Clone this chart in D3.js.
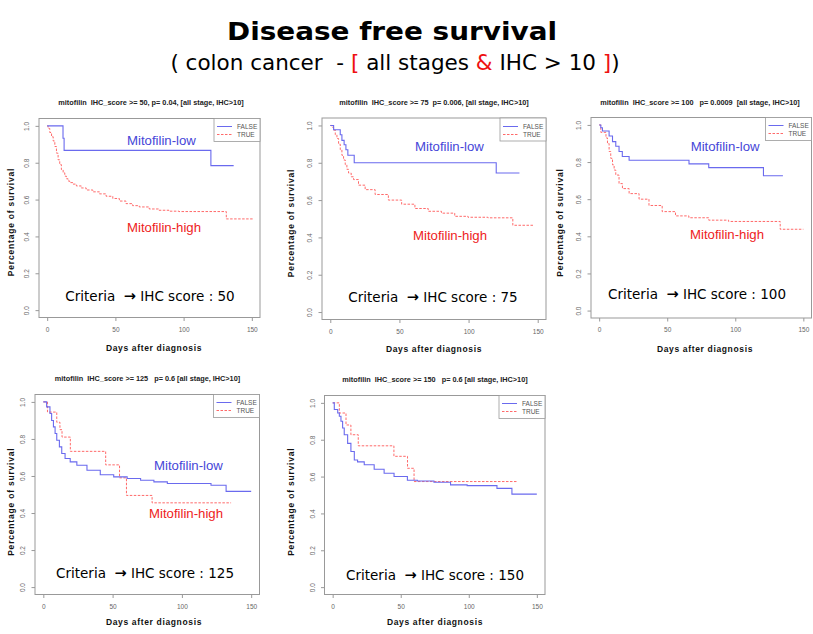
<!DOCTYPE html>
<html><head><meta charset="utf-8">
<script src="https://cdn.jsdelivr.net/npm/d3@7"></script>
<style>body{margin:0;background:#fff}svg{display:block}text{white-space:pre}</style>
</head><body><svg id="c" width="813" height="634"></svg>
<script>
// ---------- data ----------
const mainTitle = "Disease free survival";
const subtitleParts = [["( colon cancer  - ", false], ["[", true], [" all stages ", false], ["&", true], [" IHC > 10 ", false], ["]", true], [")", false]];
const thresholds = [50, 75, 100, 125, 150];
const panelTitles = [
  "mitofilin  IHC_score >= 50, p= 0.04, [all stage, IHC>10]",
  "mitofilin  IHC_score >= 75  p= 0.006, [all stage, IHC>10]",
  "mitofilin  IHC_score >= 100   p= 0.0009  [all stage, IHC>10]",
  "mitofilin  IHC_score >= 125   p= 0.6 [all stage, IHC>10]",
  "mitofilin  IHC_score >= 150   p= 0.6 [all stage, IHC>10]"];
const xTicks = [0, 50, 100, 150];
const yTicks = [0, 0.2, 0.4, 0.6, 0.8, 1.0];
const legendLabels = ["FALSE", "TRUE"];
const groupLabels = ["Mitofilin-low", "Mitofilin-high"];
const showGroupLabels = [true, true, true, true, false];
const xLabel = "Days after diagnosis";
const yLabel = "Percentage of survival";

// Kaplan-Meier steps (FALSE = low, TRUE = high)
const low50Days  = [0, 11.6, 12.4, 120, 136.7];
const low50Surv  = [1, 0.933, 0.867, 0.784, 0.784];
const high50Days = [0, 0.7, 1.9, 3.2, 4.4, 5.6, 6.8, 8.0, 9.2, 10.4, 11.7, 12.9, 14.1, 15.3, 16.5, 18.9, 21.4, 25.0, 28.6, 33.5, 38.3, 43.2, 48.1, 52.9, 57.8, 62.6, 67.5, 74.8, 82.0, 89.3, 96.6, 131.3, 151];
const high50Surv = [1, 0.986, 0.964, 0.941, 0.918, 0.888, 0.852, 0.816, 0.790, 0.763, 0.745, 0.727, 0.713, 0.701, 0.692, 0.684, 0.674, 0.663, 0.652, 0.642, 0.631, 0.618, 0.606, 0.592, 0.578, 0.567, 0.560, 0.549, 0.542, 0.537, 0.535, 0.495, 0.495];

const low75Days  = [0, 2.4, 7.2, 8.4, 10, 11.3, 12.7, 17.3, 120, 136.8];
const low75Surv  = [1, 0.977, 0.95, 0.92, 0.897, 0.87, 0.84, 0.80, 0.745, 0.745];
const high75Days = [0, 1.2, 2.4, 3.6, 4.8, 6.0, 7.2, 8.4, 9.6, 10.8, 12.0, 13.2, 15.1, 16.8, 20.4, 25.2, 32.4, 42.0, 51.6, 61.2, 70.8, 80.4, 90.0, 99.6, 114, 132, 147.6];
const high75Surv = [1, 0.99, 0.975, 0.95, 0.93, 0.90, 0.87, 0.84, 0.815, 0.79, 0.765, 0.745, 0.725, 0.71, 0.68, 0.656, 0.63, 0.60, 0.578, 0.555, 0.54, 0.53, 0.513, 0.508, 0.505, 0.465, 0.465];

const low100Days  = [0, 1.2, 2.4, 7.3, 9.8, 12.2, 14.6, 17, 22, 66, 80.5, 120.7, 135];
const low100Surv  = [1, 0.985, 0.967, 0.94, 0.91, 0.885, 0.857, 0.83, 0.81, 0.79, 0.77, 0.726, 0.726];
const high100Days = [0, 1.2, 5, 6.1, 7.3, 8.5, 9.8, 11, 12.2, 14.6, 17.1, 22, 29.3, 36.6, 46.3, 56.1, 65.9, 80.5, 95.1, 133, 150];
const high100Surv = [1, 0.96, 0.93, 0.90, 0.857, 0.82, 0.785, 0.757, 0.73, 0.684, 0.657, 0.63, 0.60, 0.566, 0.533, 0.51, 0.50, 0.487, 0.48, 0.438, 0.438];

const low125Days  = [0, 2.4, 4.8, 6, 7.3, 8.5, 9.7, 11.6, 13.3, 15.7, 19.4, 24.2, 31.5, 41.1, 50.8, 60.5, 70.2, 79.8, 89.5, 121, 131.9, 150];
const low125Surv  = [1, 0.973, 0.937, 0.90, 0.865, 0.829, 0.793, 0.757, 0.721, 0.694, 0.676, 0.658, 0.631, 0.607, 0.595, 0.586, 0.577, 0.568, 0.559, 0.55, 0.517, 0.517];
const high125Days = [0, 3, 9.7, 12, 13.5, 19.5, 45, 55, 60, 78.5, 135.5];
const high125Surv = [1, 0.945, 0.89, 0.85, 0.81, 0.733, 0.66, 0.59, 0.495, 0.455, 0.455];

const low150Days  = [0, 1.2, 3.7, 4.9, 6.1, 7.3, 8.5, 11, 13.4, 15.9, 18.3, 23.2, 30.5, 37.8, 45.1, 54.9, 62.2, 74.4, 86.6, 98.8, 120.7, 131.7, 150];
const low150Surv  = [1, 0.964, 0.945, 0.927, 0.90, 0.864, 0.827, 0.78, 0.736, 0.69, 0.68, 0.664, 0.64, 0.618, 0.60, 0.58, 0.576, 0.569, 0.555, 0.551, 0.536, 0.505, 0.505];
const high150Days = [0, 4.9, 9.8, 13.4, 18.8, 45, 55, 59.8, 135.4];
const high150Surv = [1, 0.945, 0.88, 0.827, 0.767, 0.71, 0.645, 0.573, 0.573];

const lowDays  = [low50Days, low75Days, low100Days, low125Days, low150Days];
const lowSurv  = [low50Surv, low75Surv, low100Surv, low125Surv, low150Surv];
const highDays = [high50Days, high75Days, high100Days, high125Days, high150Days];
const highSurv = [high50Surv, high75Surv, high100Surv, high125Surv, high150Surv];

// ---------- layout ----------
const layout = [
  {box:[39,118.5,260,317.5],  title:[151,105],   yl:[11,222],    xl:[154,351],  crit:[150,301],   low:[127,145],   high:[127,232.3]},
  {box:[322,118,546,319.5],   title:[434,104.7], yl:[291,223],   xl:[434,352],  crit:[433,301.7], low:[415,151],   high:[413,239.7]},
  {box:[591,117.5,811.5,318], title:[700,105],   yl:[559.5,222.5], xl:[705,352], crit:[697,299.3], low:[690.7,150.7], high:[690,239]},
  {box:[35,394.5,259.5,594.5], title:[147.5,381.3], yl:[10.5,501.7], xl:[154,625.3], crit:[145,577.7], low:[154,470.3], high:[149,517.7]},
  {box:[324.5,395.5,545,594.5], title:[435,382.3], yl:[291,501.7], xl:[435,625.3], crit:[435,580], low:null, high:null}
];
const BLUE_LINE = "#6a6aee", RED_LINE = "#ff6a6a";
const BLUE_TXT = "#4646d8", RED_TXT = "#ee1c1c";

const svg = d3.select("#c");
svg.append("rect").attr("width",813).attr("height",634).attr("fill","#fff");

// title
svg.append("text").attr("x",392).attr("y",40).attr("text-anchor","middle")
  .attr("font-family","DejaVu Sans").attr("font-weight","bold").attr("font-size",24)
  .attr("textLength",330).attr("lengthAdjust","spacingAndGlyphs").attr("fill","#000")
  .text(mainTitle);
const sub = svg.append("text").attr("x",395).attr("y",70).attr("text-anchor","middle")
  .attr("font-family","DejaVu Sans").attr("font-size",21.5).attr("fill","#000");
subtitleParts.forEach(([t, red]) => sub.append("tspan").attr("fill", red ? "#ee1111" : "#000").text(t));

layout.forEach((L, i) => {
  const [l, t, r, b] = L.box;
  const g = svg.append("g");
  const x = d3.scaleLinear().domain([-6, 156]).range([l, r]);
  const y = d3.scaleLinear().domain([-0.04, 1.04]).range([b, t]);

  // chart title
  g.append("text").attr("x", L.title[0]).attr("y", L.title[1]).attr("text-anchor","middle")
    .attr("font-family","Liberation Sans").attr("font-weight","bold").attr("font-size",7.3)
    .attr("fill","#222").text(panelTitles[i]);

  // axes
  const ya = g.append("g").attr("transform", `translate(${l},0)`)
    .call(d3.axisLeft(y).tickValues(yTicks).tickSize(3.5).tickFormat(d3.format(".1f")));
  ya.select(".domain").remove();
  ya.selectAll("line").attr("stroke","#999");
  ya.selectAll("text").attr("transform","rotate(-90)").attr("x",0).attr("y",-10).attr("dy",0)
    .attr("text-anchor","middle").attr("fill","#666").attr("font-size",6.5).attr("font-family","Liberation Sans");
  const xa = g.append("g").attr("transform", `translate(0,${b})`)
    .call(d3.axisBottom(x).tickValues(xTicks).tickSize(3.5).tickPadding(6).tickFormat(d3.format("d")));
  xa.select(".domain").remove();
  xa.selectAll("line").attr("stroke","#999");
  xa.selectAll("text").attr("fill","#666").attr("font-size",6.5).attr("font-family","Liberation Sans");

  // box
  g.append("rect").attr("x",l).attr("y",t).attr("width",r-l).attr("height",b-t)
    .attr("fill","none").attr("stroke","#999").attr("stroke-width",1);

  // axis labels
  g.append("text").attr("transform",`translate(${L.yl[0]},${L.yl[1]}) rotate(-90)`)
    .attr("text-anchor","middle").attr("dominant-baseline","central")
    .attr("font-family","Liberation Sans").attr("font-weight","bold").attr("font-size",8.5)
    .attr("letter-spacing",0.8).attr("fill","#111").text(yLabel);
  g.append("text").attr("x",L.xl[0]).attr("y",L.xl[1]).attr("text-anchor","middle")
    .attr("font-family","Liberation Sans").attr("font-weight","bold").attr("font-size",8.5)
    .attr("letter-spacing",0.65).attr("fill","#111").text(xLabel);

  // curves
  const line = d3.line().x(d => x(d[0])).y(d => y(d[1])).curve(d3.curveStepAfter);
  const lowPts = lowDays[i].map((d, k) => [d, lowSurv[i][k]]);
  const highPts = highDays[i].map((d, k) => [d, highSurv[i][k]]);
  g.append("path").attr("d", line(highPts)).attr("fill","none").attr("stroke",RED_LINE)
    .attr("stroke-width",1).attr("stroke-dasharray","2.5,1.5");
  g.append("path").attr("d", line(lowPts)).attr("fill","none").attr("stroke",BLUE_LINE)
    .attr("stroke-width",1.1);

  // legend
  const lx = r - 46, ly = t;
  g.append("rect").attr("x",lx).attr("y",ly).attr("width",46).attr("height",23)
    .attr("fill","#fff").attr("stroke","#999").attr("stroke-width",0.8);
  legendLabels.forEach((lab, k) => {
    const yy = Math.round(ly + 7.5 + k * 8) + 0.5;
    g.append("line").attr("x1",lx+3).attr("x2",lx+18).attr("y1",yy).attr("y2",yy)
      .attr("stroke", k ? RED_LINE : BLUE_LINE).attr("stroke-width",1)
      .attr("stroke-dasharray", k ? "2.5,1.5" : null);
    g.append("text").attr("x",lx+23).attr("y",yy).attr("dy","0.35em")
      .attr("font-family","Liberation Sans").attr("font-size",6.5).attr("fill","#555").text(lab);
  });

  // group labels
  if (showGroupLabels[i]) {
    g.append("text").attr("x",L.low[0]).attr("y",L.low[1]).attr("font-family","Liberation Sans")
      .attr("font-size",13.2).attr("fill",BLUE_TXT).text(groupLabels[0]);
    g.append("text").attr("x",L.high[0]).attr("y",L.high[1]).attr("font-family","Liberation Sans")
      .attr("font-size",13.2).attr("fill",RED_TXT).text(groupLabels[1]);
  }

  // criteria
  const c = g.append("text").attr("x",L.crit[0]).attr("y",L.crit[1]).attr("text-anchor","middle")
    .attr("font-family","DejaVu Sans").attr("font-size",13.5).attr("fill","#000");
  c.append("tspan").text("Criteria  ");
  c.append("tspan").attr("font-weight","bold").attr("font-size",14.5).text("→");
  c.append("tspan").text(" IHC score : " + thresholds[i]);
});
</script></body></html>
